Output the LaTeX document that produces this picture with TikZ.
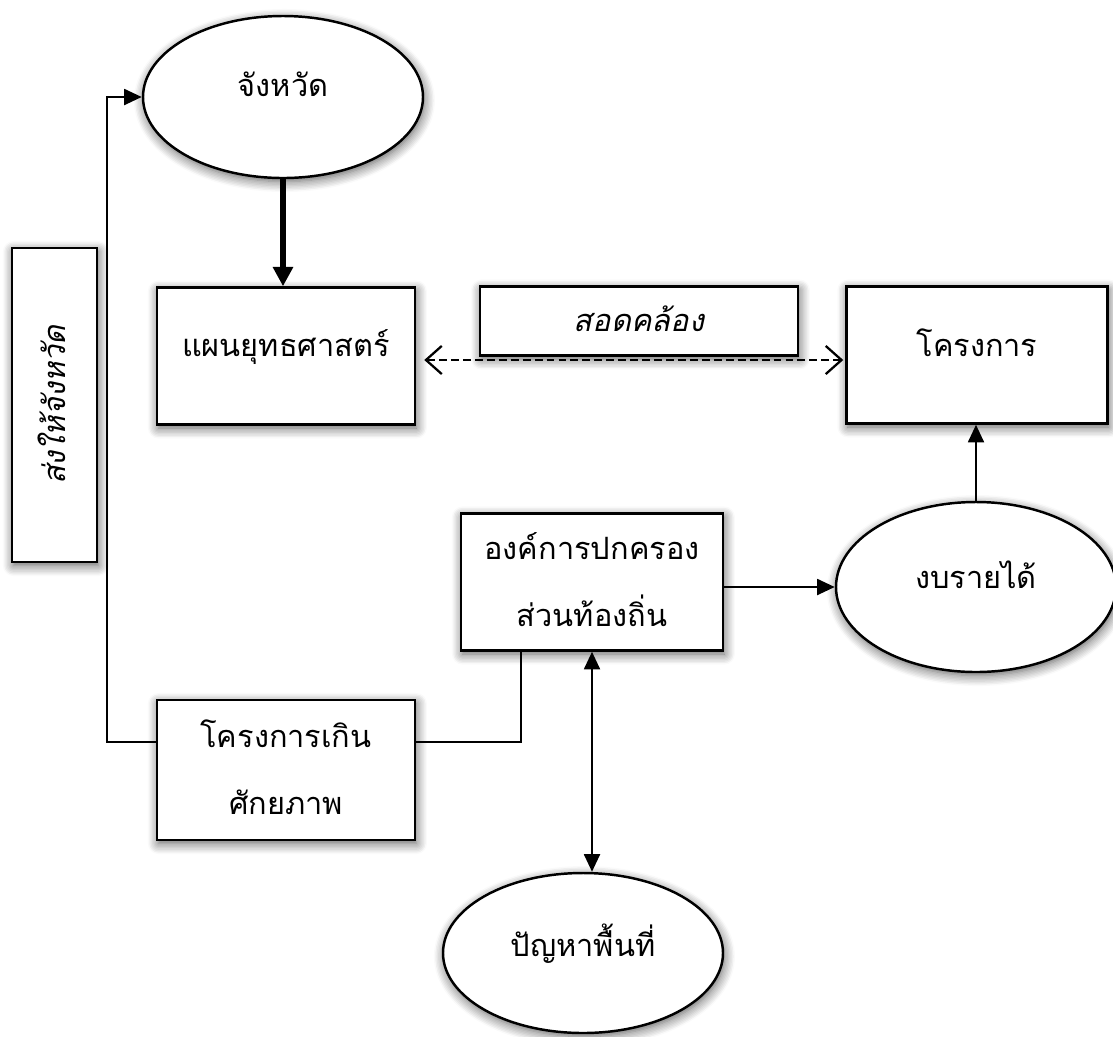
\documentclass[tikz,border=0pt]{standalone}
\usepackage{fontspec}
\newfontfamily\thai[Script=Thai]{Loma}
\usetikzlibrary{arrows.meta,shapes.geometric,shadows.blur,calc}

\begin{document}
\begin{tikzpicture}[x=0.02cm,y=-0.02cm,
  shade/.style={blur shadow={shadow xshift=0.8pt,shadow yshift=-2pt,shadow blur radius=6pt,shadow opacity=65,shadow blur steps=8}},
  base/.style={draw,line width=1.4pt,fill=white,shade,inner sep=0pt,
    font=\thai\fontsize{17.5}{38}\selectfont,align=center,text depth=0.5cm},
  box/.style={base,rectangle},
  oval/.style={base,ellipse},
  link/.style={line width=1.4pt},
  tip/.style={Triangle[length=10pt,width=9pt]},
  arr/.style={link,-{Triangle[length=10pt,width=9pt]}},
  twoarr/.style={link,{Triangle[length=10pt,width=9pt]}-{Triangle[length=10pt,width=9pt]}},
  heavy/.style={line width=3.4pt,-{Triangle[length=11pt,width=11pt]}},
  loose/.style={line width=1.3pt,dashed,dash pattern=on 4.5pt off 2.3pt,
    {Straight Barb[length=9pt,width=16pt,line width=1.3pt]}-{Straight Barb[length=9pt,width=16pt,line width=1.3pt]}}
]
\useasboundingbox (0,0) rectangle (1113,1036);

% nodes
\node[oval,minimum width=280*0.02cm,minimum height=162*0.02cm] (prov) at (283,97) {จังหวัด};
\node[box,minimum width=258*0.02cm,minimum height=137*0.02cm] (plan) at (286,356) {แผนยุทธศาสตร์};
\node[box,minimum width=318*0.02cm,minimum height=69*0.02cm,text depth=0.1cm,
  font=\thai\itshape\fontsize{17.5}{20}\selectfont] (agree) at (639,321) {สอดคล้อง};
\node[box,minimum width=261*0.02cm,minimum height=137*0.02cm] (proj) at (977,355) {โครงการ};
\node[oval,minimum width=280*0.02cm,minimum height=170*0.02cm] (inc) at (976,587) {งบรายได้};
\node[box,minimum width=262*0.02cm,minimum height=137*0.02cm,text depth=0.1cm] (lao) at (592,582) {องค์การปกครอง\\ส่วนท้องถิ่น};
\node[box,minimum width=258*0.02cm,minimum height=140*0.02cm,text depth=0.1cm] (over) at (286,770) {โครงการเกิน\\ศักยภาพ};
\node[box,rotate=90,minimum width=314*0.02cm,minimum height=85*0.02cm,text depth=0.1cm,
  font=\thai\itshape\fontsize{17.5}{20}\selectfont] (send) at (54.5,405) {ส่งให้จังหวัด};
\node[oval,minimum width=280*0.02cm,minimum height=160*0.02cm] (issue) at (583,953) {ปัญหาพื้นที่};

% connectors
\draw[heavy] (prov.south) -- (prov.south |- plan.north);
\draw[loose] ($(plan.east)+(8,4)$) -- ($(proj.west)+(-2,5)$);
\draw[arr] (inc.north) -- (inc.north |- proj.south);
\draw[arr] (lao.east |- inc.west) -- (inc.west);
\draw[link] ($(over.east)+(0,-28)$) -| ($(lao.south west)+(61,0)$);
\draw[arr] ($(over.west)+(0,-28)$) -- ++(-49,0) |- (prov.west);
\draw[twoarr] (lao.south) -- (lao.south |- issue.north);
\end{tikzpicture}
\end{document}
